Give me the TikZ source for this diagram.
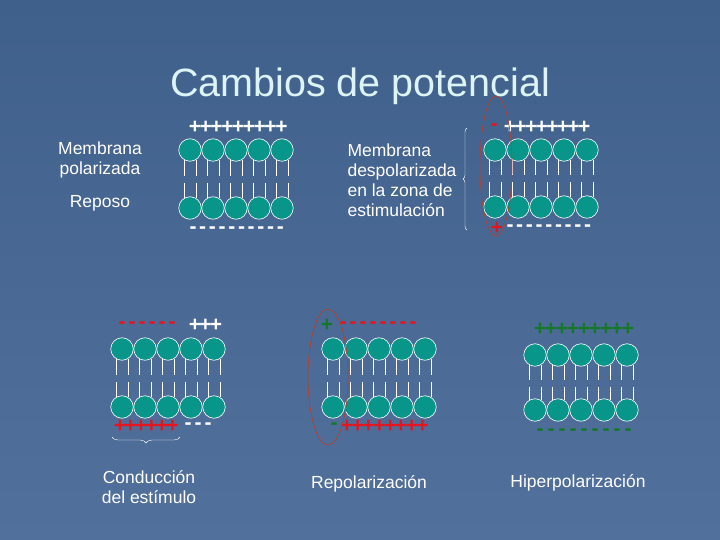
\documentclass[tikz,border=0pt]{standalone}
\usepackage{fontspec}
\setmainfont{Liberation Sans}
\usetikzlibrary{decorations.pathreplacing}
\definecolor{bgtop}{RGB}{64, 96, 140}
\definecolor{bgbottom}{RGB}{82, 112, 156}
\definecolor{head}{RGB}{8, 150, 138}
\definecolor{titlecol}{RGB}{220, 244, 246}
\definecolor{chred}{RGB}{230, 20, 30}
\definecolor{chgreen}{RGB}{20, 120, 40}
\definecolor{ringred}{RGB}{175, 65, 50}

\tikzset{
  headnode/.style={circle, draw=white, fill=head, line width=0.6pt, minimum size=22.5pt, inner sep=0pt},
  tail/.style={white, line width=0.7pt},
  charge/.style={font=\bfseries\fontsize{21}{21}\selectfont, inner sep=0pt},
  label/.style={white, font=\fontsize{17.5}{20}\selectfont, align=center},
  ring/.style={ringred, line width=0.7pt}
}

% membrane: name, first head x, top row y, distance between rows
\newcommand{\membrane}[4]{%
  \foreach \i in {0,...,4} {
    \pgfmathsetmacro{\hx}{#2+\i*23}
    \foreach \s in {-6,6} {
      \draw[tail] (\hx+\s,#3+10) -- (\hx+\s,#3+#4/2-3);
      \draw[tail] (\hx+\s,#3+#4/2+4) -- (\hx+\s,#3+#4-10);
    }
    \node[headnode] (#1-t\i) at (\hx,#3) {};
    \node[headnode] (#1-b\i) at (\hx,#3+#4) {};
  }}
% charges: first x, y, count, step, sign, colour
\newcommand{\charges}[6]{%
  \foreach \k in {1,...,#3} {
    \node[charge, #6] at (#1+\k*#4-#4,#2) {#5};
  }}

\begin{document}
\begin{tikzpicture}[x=1pt, y=-1pt]
% Background
\shade[top color=bgtop, bottom color=bgbottom] (0,0) rectangle (720,540);
\useasboundingbox (0,0) rectangle (720,540);

% Title
\node[titlecol, font=\fontsize{39.5}{42}\selectfont] (title) at (360,86) {Cambios de potencial};

% Resting membrane
\node[label] (polar) at (100,160) {Membrana\\polarizada};
\node[label] (reposo) at (100,203) {Reposo};
\membrane{rest}{190}{150}{58}
\charges{195}{127}{9}{10.8}{+}{white}
\charges{193}{230}{10}{9.7}{-}{white}

% Depolarized membrane
\node[label, align=left, anchor=west] (despol) at (344,180) {Membrana\\despolarizada\\en la zona de\\estimulación};
\coordinate (bra) at (467,230);
\coordinate (brb) at (467,128);
\draw[white, thin, decorate, decoration={brace, amplitude=4pt}] (bra) -- (brb);
\membrane{depol}{495}{150}{57}
\charges{494}{127}{1}{10}{-}{chred}
\charges{510}{127}{8}{10.6}{+}{white}
\charges{497}{228}{1}{10}{+}{chred}
\charges{510}{228}{9}{9.7}{-}{white}
\draw[ring] (496,166) ellipse [x radius=16, y radius=70];

% Conduction
\membrane{cond}{122}{349}{58}
\charges{122}{325}{6}{10}{-}{chred}
\charges{195}{325}{3}{10.5}{+}{white}
\charges{120}{426}{6}{10.5}{+}{chred}
\charges{188}{426}{3}{10}{-}{white}
\coordinate (bca) at (112,437);
\coordinate (bcb) at (180,437);
\draw[white, thin, decorate, decoration={brace, mirror, amplitude=6pt}] (bca) -- (bcb);
\node[label] (conduc) at (149,487) {Conducción\\del estímulo};

% Repolarization
\membrane{repol}{333}{349}{58}
\charges{327}{325}{1}{10}{+}{chgreen}
\charges{343}{325}{8}{10}{-}{chred}
\charges{334}{426}{1}{10}{-}{chgreen}
\charges{347}{426}{8}{10.8}{+}{chred}
\draw[ring] (328,377) ellipse [x radius=20, y radius=68];
\node[label] (repolar) at (369,484) {Repolarización};

% Hyperpolarization
\membrane{hyper}{535}{355}{55}
\charges{540}{329}{9}{11}{+}{chgreen}
\charges{540}{432}{9}{11}{-}{chgreen}
\node[label] (hiper) at (578,483) {Hiperpolarización};
\end{tikzpicture}
\end{document}
